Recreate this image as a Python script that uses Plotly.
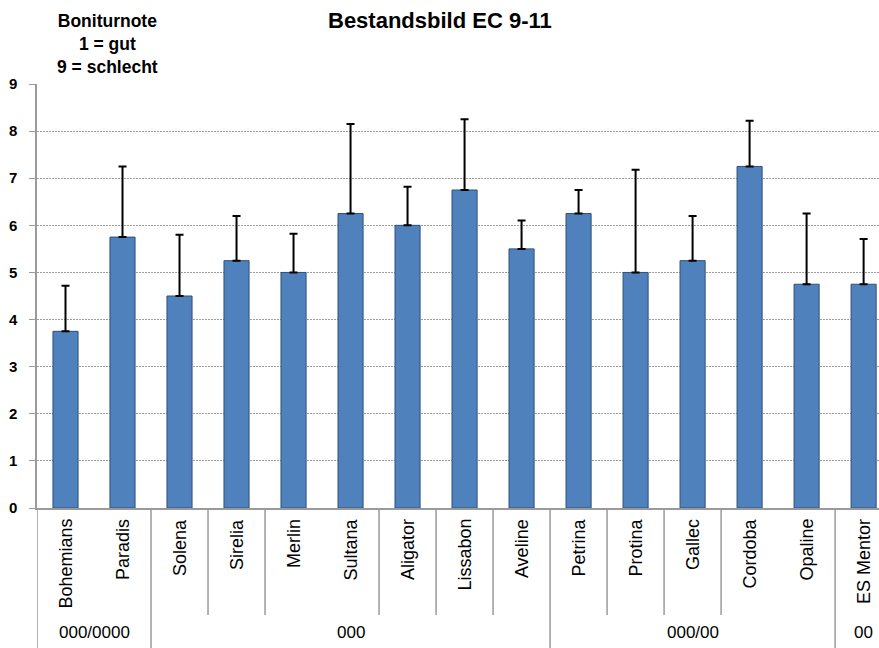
import plotly.graph_objects as go

categories = ["Bohemians", "Paradis", "Solena", "Sirelia", "Merlin", "Sultana",
              "Aligator", "Lissabon", "Aveline", "Petrina", "Protina", "Gallec",
              "Cordoba", "Opaline", "ES Mentor"]
scores = [3.75, 5.75, 4.5, 5.25, 5.0, 6.25, 6.0, 6.75, 5.5, 6.25, 5.0, 5.25, 7.25, 4.75, 4.75]
errors = [0.97, 1.5, 1.3, 0.95, 0.82, 1.9, 0.82, 1.5, 0.6, 0.5, 2.18, 0.95, 0.97, 1.5, 0.96]
groups = ["000/0000"] * 2 + ["000"] * 7 + ["000/00"] * 5 + ["00"]
sub_groups = [1, 1, 2, 3, 4, 4, 5, 6, 7, 8, 9, 10, 11, 11, 12]
y_ticks = list(range(10))

FONT = "Liberation Sans, Arial, sans-serif"
GRAY = "#9A9A9A"

fig = go.Figure()
fig.add_trace(go.Bar(
    x=categories, y=scores, width=0.44,
    marker=dict(color="#4F81BD", line=dict(color="#2F4F78", width=1)),
    error_y=dict(type="data", array=errors, arrayminus=[0] * len(errors),
                 symmetric=False, color="black", thickness=2, width=4),
    showlegend=False,
))

n = len(categories)
shapes = []
# left border continues down through label area
shapes.append(dict(type="line", xref="x", yref="paper", x0=-0.5, x1=-0.5,
                   y0=0, y1=-140 / 424, line=dict(color=GRAY, width=1.5)))
for i in range(n - 1):
    if groups[i] != groups[i + 1]:
        y1 = -140 / 424
    elif sub_groups[i] != sub_groups[i + 1]:
        y1 = -107 / 424
    else:
        continue
    shapes.append(dict(type="line", xref="x", yref="paper", x0=i + 0.5, x1=i + 0.5,
                       y0=0, y1=y1, line=dict(color=GRAY, width=1.5)))

annotations = []
for c in categories:
    annotations.append(dict(x=c, y=0, xref="x", yref="paper", text=c,
                            textangle=-90, yanchor="top", xanchor="center",
                            yshift=-9, showarrow=False,
                            font=dict(family=FONT, size=18, color="black")))
# group labels
start = 0
for i in range(1, n + 1):
    if i == n or groups[i] != groups[start]:
        center = (start + i - 1) / 2
        annotations.append(dict(x=center, y=(508 - 632) / 424, xref="x", yref="paper",
                                text=groups[start], showarrow=False,
                                xanchor="center", yanchor="middle",
                                font=dict(family=FONT, size=17, color="black")))
        start = i

annotations.append(dict(x=440, y=20, text="Bestandsbild EC 9-11",
                        showarrow=False, font=dict(family=FONT, size=22, color="black", weight="bold")))
annotations.append(dict(x=107, y=44, text="Boniturnote<br>1 = gut<br>9 = schlecht",
                        showarrow=False, align="center",
                        font=dict(family=FONT, size=17.5, color="black", weight="bold")))

# convert pixel-based title annotations to paper coords
W, H = 879, 648
L, R, T, B = 37, 0, 84, 140
pw, ph = W - L - R, H - T - B
for a in annotations[-2:]:
    a["xref"] = "paper"
    a["yref"] = "paper"
    a["x"] = (a["x"] - L) / pw
    a["y"] = (H - B - a["y"]) / ph
    a["xanchor"] = "center"
    a["yanchor"] = "middle"

fig.update_layout(
    width=W, height=H,
    margin=dict(l=L, r=R, t=T, b=B, pad=0),
    plot_bgcolor="white", paper_bgcolor="white",
    font=dict(family=FONT, color="black"),
    shapes=shapes,
    annotations=annotations,
    xaxis=dict(range=[-0.5, 14.27], showticklabels=False, showgrid=False,
               showline=True, linecolor=GRAY, linewidth=1.5, ticks="",
               zeroline=False, fixedrange=True),
    yaxis=dict(range=[0, 9], tickvals=y_ticks, ticktext=[str(v) for v in y_ticks],
               showgrid=True, gridcolor="#9C9C9C", gridwidth=1, griddash="2px,1px",
               showline=True, linecolor=GRAY, linewidth=1.5,
               ticks="outside", ticklen=6, tickcolor=GRAY, tickwidth=1,
               ticklabelstandoff=9, zeroline=False,
               tickfont=dict(family=FONT, size=15, color="black", weight="bold")),
)

fig.write_html("out.html")
